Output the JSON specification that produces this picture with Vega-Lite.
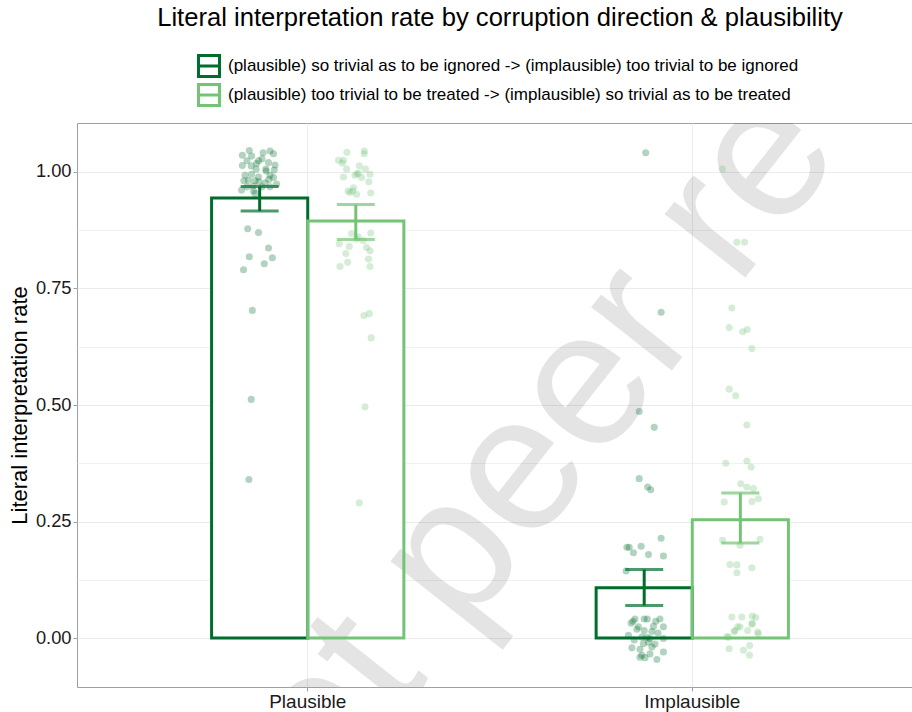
{
  "$schema": "https://vega.github.io/schema/vega-lite/v6.json",
  "autosize": "none",
  "width": 846,
  "height": 564,
  "padding": {"left": 77, "top": 123, "right": -11, "bottom": 25},
  "background": "white",
  "title": {
    "text": "Literal interpretation rate by corruption direction & plausibility",
    "fontSize": 25.6,
    "fontWeight": "normal",
    "font": "Liberation Sans",
    "color": "#000000",
    "anchor": "middle",
    "frame": "group",
    "baseline": "alphabetic",
    "offset": 2
  },
  "datasets": {
    "summary": [
      {"cond": "Plausible", "group": "(plausible) so trivial as to be ignored -> (implausible) too trivial to be ignored", "mean": 0.944, "lo": 0.916, "hi": 0.969},
      {"cond": "Plausible", "group": "(plausible) too trivial to be treated -> (implausible) so trivial as to be treated", "mean": 0.895, "lo": 0.855, "hi": 0.930},
      {"cond": "Implausible", "group": "(plausible) so trivial as to be ignored -> (implausible) too trivial to be ignored", "mean": 0.108, "lo": 0.070, "hi": 0.147},
      {"cond": "Implausible", "group": "(plausible) too trivial to be treated -> (implausible) so trivial as to be treated", "mean": 0.254, "lo": 0.204, "hi": 0.311}
    ],
    "points": [
      {"g": "A", "cond": "Plausible", "j": -0.152, "v": 1.046},
      {"g": "A", "cond": "Plausible", "j": -0.098, "v": 1.045},
      {"g": "A", "cond": "Plausible", "j": -0.089, "v": 1.039},
      {"g": "A", "cond": "Plausible", "j": -0.170, "v": 1.036},
      {"g": "A", "cond": "Plausible", "j": -0.146, "v": 1.034},
      {"g": "A", "cond": "Plausible", "j": -0.128, "v": 1.024},
      {"g": "A", "cond": "Plausible", "j": -0.133, "v": 1.018},
      {"g": "A", "cond": "Plausible", "j": -0.102, "v": 1.020},
      {"g": "A", "cond": "Plausible", "j": -0.085, "v": 1.015},
      {"g": "A", "cond": "Plausible", "j": -0.170, "v": 1.014},
      {"g": "A", "cond": "Plausible", "j": -0.147, "v": 1.013},
      {"g": "A", "cond": "Plausible", "j": -0.109, "v": 1.006},
      {"g": "A", "cond": "Plausible", "j": -0.087, "v": 1.004},
      {"g": "A", "cond": "Plausible", "j": -0.163, "v": 0.993},
      {"g": "A", "cond": "Plausible", "j": -0.146, "v": 0.995},
      {"g": "A", "cond": "Plausible", "j": -0.128, "v": 0.989},
      {"g": "A", "cond": "Plausible", "j": -0.098, "v": 0.993},
      {"g": "A", "cond": "Plausible", "j": -0.089, "v": 0.988},
      {"g": "A", "cond": "Plausible", "j": -0.154, "v": 0.982},
      {"g": "A", "cond": "Plausible", "j": -0.137, "v": 0.981},
      {"g": "A", "cond": "Plausible", "j": -0.111, "v": 0.977},
      {"g": "A", "cond": "Plausible", "j": -0.081, "v": 0.974},
      {"g": "A", "cond": "Plausible", "j": -0.172, "v": 0.961},
      {"g": "A", "cond": "Plausible", "j": -0.141, "v": 0.959},
      {"g": "A", "cond": "Plausible", "j": -0.137, "v": 0.954},
      {"g": "A", "cond": "Plausible", "j": -0.119, "v": 1.028},
      {"g": "A", "cond": "Plausible", "j": -0.108, "v": 1.002},
      {"g": "A", "cond": "Plausible", "j": -0.166, "v": 0.981},
      {"g": "A", "cond": "Plausible", "j": -0.127, "v": 0.979},
      {"g": "A", "cond": "Plausible", "j": -0.101, "v": 0.984},
      {"g": "A", "cond": "Plausible", "j": -0.119, "v": 0.968},
      {"g": "A", "cond": "Plausible", "j": -0.158, "v": 0.968},
      {"g": "A", "cond": "Plausible", "j": -0.098, "v": 0.968},
      {"g": "A", "cond": "Plausible", "j": -0.134, "v": 1.006},
      {"g": "A", "cond": "Plausible", "j": -0.142, "v": 0.970},
      {"g": "A", "cond": "Plausible", "j": -0.116, "v": 1.041},
      {"g": "A", "cond": "Plausible", "j": -0.158, "v": 1.024},
      {"g": "A", "cond": "Plausible", "j": -0.156, "v": 0.878},
      {"g": "A", "cond": "Plausible", "j": -0.128, "v": 0.870},
      {"g": "A", "cond": "Plausible", "j": -0.102, "v": 0.837},
      {"g": "A", "cond": "Plausible", "j": -0.152, "v": 0.818},
      {"g": "A", "cond": "Plausible", "j": -0.092, "v": 0.816},
      {"g": "A", "cond": "Plausible", "j": -0.113, "v": 0.803},
      {"g": "A", "cond": "Plausible", "j": -0.167, "v": 0.790},
      {"g": "A", "cond": "Plausible", "j": -0.144, "v": 0.703},
      {"g": "A", "cond": "Plausible", "j": -0.147, "v": 0.512},
      {"g": "A", "cond": "Plausible", "j": -0.153, "v": 0.340},
      {"g": "B", "cond": "Plausible", "j": 0.102, "v": 1.042},
      {"g": "B", "cond": "Plausible", "j": 0.147, "v": 1.045},
      {"g": "B", "cond": "Plausible", "j": 0.147, "v": 1.039},
      {"g": "B", "cond": "Plausible", "j": 0.080, "v": 1.025},
      {"g": "B", "cond": "Plausible", "j": 0.093, "v": 1.025},
      {"g": "B", "cond": "Plausible", "j": 0.090, "v": 1.019},
      {"g": "B", "cond": "Plausible", "j": 0.101, "v": 1.006},
      {"g": "B", "cond": "Plausible", "j": 0.134, "v": 1.013},
      {"g": "B", "cond": "Plausible", "j": 0.150, "v": 1.006},
      {"g": "B", "cond": "Plausible", "j": 0.093, "v": 0.989},
      {"g": "B", "cond": "Plausible", "j": 0.123, "v": 0.993},
      {"g": "B", "cond": "Plausible", "j": 0.132, "v": 0.997},
      {"g": "B", "cond": "Plausible", "j": 0.140, "v": 0.988},
      {"g": "B", "cond": "Plausible", "j": 0.162, "v": 0.995},
      {"g": "B", "cond": "Plausible", "j": 0.159, "v": 0.979},
      {"g": "B", "cond": "Plausible", "j": 0.119, "v": 0.966},
      {"g": "B", "cond": "Plausible", "j": 0.110, "v": 0.956},
      {"g": "B", "cond": "Plausible", "j": 0.117, "v": 0.959},
      {"g": "B", "cond": "Plausible", "j": 0.127, "v": 0.952},
      {"g": "B", "cond": "Plausible", "j": 0.164, "v": 0.955},
      {"g": "B", "cond": "Plausible", "j": 0.128, "v": 0.996},
      {"g": "B", "cond": "Plausible", "j": 0.105, "v": 0.959},
      {"g": "B", "cond": "Plausible", "j": 0.114, "v": 0.868},
      {"g": "B", "cond": "Plausible", "j": 0.164, "v": 0.869},
      {"g": "B", "cond": "Plausible", "j": 0.127, "v": 0.856},
      {"g": "B", "cond": "Plausible", "j": 0.144, "v": 0.853},
      {"g": "B", "cond": "Plausible", "j": 0.082, "v": 0.846},
      {"g": "B", "cond": "Plausible", "j": 0.108, "v": 0.840},
      {"g": "B", "cond": "Plausible", "j": 0.153, "v": 0.838},
      {"g": "B", "cond": "Plausible", "j": 0.162, "v": 0.831},
      {"g": "B", "cond": "Plausible", "j": 0.099, "v": 0.825},
      {"g": "B", "cond": "Plausible", "j": 0.158, "v": 0.813},
      {"g": "B", "cond": "Plausible", "j": 0.104, "v": 0.806},
      {"g": "B", "cond": "Plausible", "j": 0.084, "v": 0.797},
      {"g": "B", "cond": "Plausible", "j": 0.162, "v": 0.797},
      {"g": "B", "cond": "Plausible", "j": 0.131, "v": 0.861},
      {"g": "B", "cond": "Plausible", "j": 0.146, "v": 0.692},
      {"g": "B", "cond": "Plausible", "j": 0.160, "v": 0.696},
      {"g": "B", "cond": "Plausible", "j": 0.165, "v": 0.644},
      {"g": "B", "cond": "Plausible", "j": 0.149, "v": 0.496},
      {"g": "B", "cond": "Plausible", "j": 0.134, "v": 0.290},
      {"g": "A", "cond": "Implausible", "j": -0.121, "v": 1.041},
      {"g": "A", "cond": "Implausible", "j": -0.081, "v": 0.699},
      {"g": "A", "cond": "Implausible", "j": -0.138, "v": 0.486},
      {"g": "A", "cond": "Implausible", "j": -0.099, "v": 0.452},
      {"g": "A", "cond": "Implausible", "j": -0.138, "v": 0.342},
      {"g": "A", "cond": "Implausible", "j": -0.116, "v": 0.324},
      {"g": "A", "cond": "Implausible", "j": -0.108, "v": 0.318},
      {"g": "A", "cond": "Implausible", "j": -0.081, "v": 0.214},
      {"g": "A", "cond": "Implausible", "j": -0.170, "v": 0.195},
      {"g": "A", "cond": "Implausible", "j": -0.164, "v": 0.195},
      {"g": "A", "cond": "Implausible", "j": -0.133, "v": 0.197},
      {"g": "A", "cond": "Implausible", "j": -0.153, "v": 0.183},
      {"g": "A", "cond": "Implausible", "j": -0.114, "v": 0.179},
      {"g": "A", "cond": "Implausible", "j": -0.075, "v": 0.176},
      {"g": "A", "cond": "Implausible", "j": -0.172, "v": 0.144},
      {"g": "A", "cond": "Implausible", "j": -0.149, "v": 0.041},
      {"g": "A", "cond": "Implausible", "j": -0.159, "v": 0.032},
      {"g": "A", "cond": "Implausible", "j": -0.125, "v": 0.041},
      {"g": "A", "cond": "Implausible", "j": -0.117, "v": 0.041},
      {"g": "A", "cond": "Implausible", "j": -0.095, "v": 0.036},
      {"g": "A", "cond": "Implausible", "j": -0.101, "v": 0.025},
      {"g": "A", "cond": "Implausible", "j": -0.075, "v": 0.024},
      {"g": "A", "cond": "Implausible", "j": -0.140, "v": 0.024},
      {"g": "A", "cond": "Implausible", "j": -0.125, "v": 0.016},
      {"g": "A", "cond": "Implausible", "j": -0.105, "v": 0.014},
      {"g": "A", "cond": "Implausible", "j": -0.166, "v": 0.006},
      {"g": "A", "cond": "Implausible", "j": -0.151, "v": -0.004},
      {"g": "A", "cond": "Implausible", "j": -0.131, "v": 0.002},
      {"g": "A", "cond": "Implausible", "j": -0.118, "v": 0.001},
      {"g": "A", "cond": "Implausible", "j": -0.110, "v": -0.001},
      {"g": "A", "cond": "Implausible", "j": -0.075, "v": -0.001},
      {"g": "A", "cond": "Implausible", "j": -0.127, "v": -0.012},
      {"g": "A", "cond": "Implausible", "j": -0.114, "v": -0.009},
      {"g": "A", "cond": "Implausible", "j": -0.157, "v": -0.021},
      {"g": "A", "cond": "Implausible", "j": -0.105, "v": -0.019},
      {"g": "A", "cond": "Implausible", "j": -0.131, "v": -0.037},
      {"g": "A", "cond": "Implausible", "j": -0.123, "v": -0.042},
      {"g": "A", "cond": "Implausible", "j": -0.110, "v": -0.034},
      {"g": "A", "cond": "Implausible", "j": -0.075, "v": -0.030},
      {"g": "A", "cond": "Implausible", "j": -0.092, "v": -0.046},
      {"g": "A", "cond": "Implausible", "j": -0.136, "v": -0.041},
      {"g": "A", "cond": "Implausible", "j": -0.144, "v": 0.019},
      {"g": "A", "cond": "Implausible", "j": -0.089, "v": 0.011},
      {"g": "A", "cond": "Implausible", "j": -0.136, "v": -0.024},
      {"g": "A", "cond": "Implausible", "j": -0.097, "v": -0.013},
      {"g": "A", "cond": "Implausible", "j": -0.154, "v": 0.036},
      {"g": "A", "cond": "Implausible", "j": -0.084, "v": 0.041},
      {"g": "B", "cond": "Implausible", "j": 0.078, "v": 1.006},
      {"g": "B", "cond": "Implausible", "j": 0.116, "v": 0.849},
      {"g": "B", "cond": "Implausible", "j": 0.136, "v": 0.849},
      {"g": "B", "cond": "Implausible", "j": 0.103, "v": 0.708},
      {"g": "B", "cond": "Implausible", "j": 0.096, "v": 0.666},
      {"g": "B", "cond": "Implausible", "j": 0.131, "v": 0.657},
      {"g": "B", "cond": "Implausible", "j": 0.143, "v": 0.662},
      {"g": "B", "cond": "Implausible", "j": 0.155, "v": 0.621},
      {"g": "B", "cond": "Implausible", "j": 0.096, "v": 0.534},
      {"g": "B", "cond": "Implausible", "j": 0.113, "v": 0.520},
      {"g": "B", "cond": "Implausible", "j": 0.142, "v": 0.457},
      {"g": "B", "cond": "Implausible", "j": 0.087, "v": 0.375},
      {"g": "B", "cond": "Implausible", "j": 0.142, "v": 0.380},
      {"g": "B", "cond": "Implausible", "j": 0.153, "v": 0.367},
      {"g": "B", "cond": "Implausible", "j": 0.126, "v": 0.331},
      {"g": "B", "cond": "Implausible", "j": 0.142, "v": 0.324},
      {"g": "B", "cond": "Implausible", "j": 0.159, "v": 0.321},
      {"g": "B", "cond": "Implausible", "j": 0.172, "v": 0.299},
      {"g": "B", "cond": "Implausible", "j": 0.155, "v": 0.293},
      {"g": "B", "cond": "Implausible", "j": 0.083, "v": 0.292},
      {"g": "B", "cond": "Implausible", "j": 0.079, "v": 0.210},
      {"g": "B", "cond": "Implausible", "j": 0.176, "v": 0.212},
      {"g": "B", "cond": "Implausible", "j": 0.124, "v": 0.199},
      {"g": "B", "cond": "Implausible", "j": 0.098, "v": 0.158},
      {"g": "B", "cond": "Implausible", "j": 0.116, "v": 0.157},
      {"g": "B", "cond": "Implausible", "j": 0.116, "v": 0.140},
      {"g": "B", "cond": "Implausible", "j": 0.155, "v": 0.151},
      {"g": "B", "cond": "Implausible", "j": 0.103, "v": 0.045},
      {"g": "B", "cond": "Implausible", "j": 0.129, "v": 0.045},
      {"g": "B", "cond": "Implausible", "j": 0.156, "v": 0.047},
      {"g": "B", "cond": "Implausible", "j": 0.165, "v": 0.044},
      {"g": "B", "cond": "Implausible", "j": 0.156, "v": 0.031},
      {"g": "B", "cond": "Implausible", "j": 0.118, "v": 0.024},
      {"g": "B", "cond": "Implausible", "j": 0.124, "v": 0.024},
      {"g": "B", "cond": "Implausible", "j": 0.111, "v": 0.016},
      {"g": "B", "cond": "Implausible", "j": 0.144, "v": 0.016},
      {"g": "B", "cond": "Implausible", "j": 0.170, "v": 0.013},
      {"g": "B", "cond": "Implausible", "j": 0.094, "v": 0.002},
      {"g": "B", "cond": "Implausible", "j": 0.096, "v": -0.023},
      {"g": "B", "cond": "Implausible", "j": 0.133, "v": -0.026},
      {"g": "B", "cond": "Implausible", "j": 0.149, "v": -0.016},
      {"g": "B", "cond": "Implausible", "j": 0.149, "v": -0.037},
      {"g": "B", "cond": "Implausible", "j": 0.090, "v": 0.003},
      {"g": "B", "cond": "Implausible", "j": 0.109, "v": 0.014},
      {"g": "B", "cond": "Implausible", "j": 0.172, "v": 0.009},
      {"g": "B", "cond": "Implausible", "j": 0.155, "v": 0.030}
    ],
    "watermark": [{"label": "Not peer reviewed"}]
  },
  "encoding": {
    "x": {
      "field": "cond",
      "type": "nominal",
      "sort": ["Plausible", "Implausible"],
      "title": null,
      "scale": {"paddingInner": 0.5, "paddingOuter": 0.35},
      "axis": {"labelFontSize": 19, "labelAngle": 0, "labelPadding": 1, "grid": true}
    }
  },
  "layer": [
    {
      "data": {"name": "summary"},
      "mark": {"type": "bar", "fill": "white", "strokeWidth": 0},
      "encoding": {
        "xOffset": {"field": "group", "type": "nominal", "scale": {"paddingInner": 0, "paddingOuter": 0}},
        "y": {
          "field": "mean",
          "type": "quantitative",
          "title": "Literal interpretation rate",
          "scale": {"domain": [-0.105, 1.105], "nice": false, "zero": false},
          "axis": {
            "values": [0, 0.125, 0.25, 0.375, 0.5, 0.625, 0.75, 0.875, 1],
            "labelExpr": "(datum.value * 4) % 1 === 0 ? format(datum.value, '.2f') : ''",
            "labelFontSize": 18.3,
            "titleFontSize": 22,
            "titlePadding": 4,
            "labelPadding": 2,
            "tickOpacity": {"condition": {"test": "(datum.value * 4) % 1 !== 0", "value": 0}, "value": 1},
            "gridWidth": {"condition": {"test": "(datum.value * 4) % 1 !== 0", "value": 0.7}, "value": 1}
          }
        }
      }
    },
    {
      "data": {"name": "watermark"},
      "mark": {"type": "text", "clip": true, "font": "Liberation Sans", "fontSize": 194, "angle": -51.7, "align": "center", "baseline": "middle", "color": "#000000", "opacity": 0.1, "dx": -12},
      "encoding": {
        "x": {"datum": "Implausible"},
        "y": {"datum": 0.83, "type": "quantitative", "title": "Literal interpretation rate"},
        "text": {"field": "label"}
      }
    },
    {
      "data": {"name": "summary"},
      "mark": {"type": "bar", "fill": "transparent", "strokeWidth": 3},
      "encoding": {
        "xOffset": {"field": "group", "type": "nominal", "scale": {"paddingInner": 0, "paddingOuter": 0}},
        "y": {"field": "mean", "type": "quantitative", "title": "Literal interpretation rate"},
        "stroke": {
          "field": "group",
          "type": "nominal",
          "scale": {
            "domain": ["(plausible) so trivial as to be ignored -> (implausible) too trivial to be ignored", "(plausible) too trivial to be treated -> (implausible) so trivial as to be treated"],
            "range": ["#006d2c", "#74c476"]
          },
          "legend": {
            "title": null,
            "orient": "none",
            "legendX": 120,
            "legendY": -69,
            "direction": "vertical",
            "symbolType": "M-1,-1H1V1H-1Z M-1,0H1",
            "symbolSize": 441,
            "symbolStrokeWidth": 3,
            "symbolFillColor": "white",
            "labelFontSize": 17,
            "labelFont": "Liberation Sans",
            "labelColor": "#000000",
            "labelLimit": 900,
            "labelOffset": 7,
            "rowPadding": -7,
            "padding": 0
          }
        }
      }
    },
    {
      "data": {"name": "summary"},
      "mark": {"type": "rule", "strokeWidth": 3},
      "encoding": {
        "xOffset": {"field": "group", "type": "nominal", "scale": {"paddingInner": 0, "paddingOuter": 0}},
        "y": {"field": "lo", "type": "quantitative", "title": "Literal interpretation rate"},
        "y2": {"field": "hi"},
        "stroke": {"field": "group", "type": "nominal"}
      }
    },
    {
      "data": {"name": "summary"},
      "mark": {"type": "tick", "thickness": 3, "size": 38, "orient": "horizontal"},
      "encoding": {
        "xOffset": {"field": "group", "type": "nominal", "scale": {"paddingInner": 0, "paddingOuter": 0}},
        "y": {"field": "lo", "type": "quantitative", "title": "Literal interpretation rate"},
        "color": {"field": "group", "type": "nominal", "scale": {"range": ["#006d2c", "#74c476"]}, "legend": null}
      }
    },
    {
      "data": {"name": "summary"},
      "mark": {"type": "tick", "thickness": 3, "size": 38, "orient": "horizontal"},
      "encoding": {
        "xOffset": {"field": "group", "type": "nominal", "scale": {"paddingInner": 0, "paddingOuter": 0}},
        "y": {"field": "hi", "type": "quantitative", "title": "Literal interpretation rate"},
        "color": {"field": "group", "type": "nominal", "scale": {"range": ["#006d2c", "#74c476"]}, "legend": null}
      }
    },
    {
      "data": {"name": "points"},
      "mark": {"type": "circle", "size": 50, "opacity": 0.3},
      "encoding": {
        "xOffset": {"field": "j", "type": "quantitative", "scale": {"domain": [-0.25, 0.25], "nice": false, "zero": false}},
        "y": {"field": "v", "type": "quantitative", "title": "Literal interpretation rate"},
        "fill": {"field": "g", "type": "nominal", "scale": {"domain": ["A", "B"], "range": ["#006d2c", "#74c476"]}, "legend": null}
      }
    }
  ],
  "resolve": {"scale": {"xOffset": "independent"}},
  "config": {
    "font": "Liberation Sans",
    "view": {"stroke": "#a0a0a0", "strokeWidth": 1},
    "axis": {
      "domain": false,
      "gridColor": "#ebebeb",
      "tickColor": "#a0a0a0",
      "tickSize": 4,
      "labelFont": "Liberation Sans",
      "labelColor": "#1a1a1a",
      "titleFont": "Liberation Sans",
      "titleFontWeight": "normal",
      "titleColor": "#000000"
    }
  }
}
